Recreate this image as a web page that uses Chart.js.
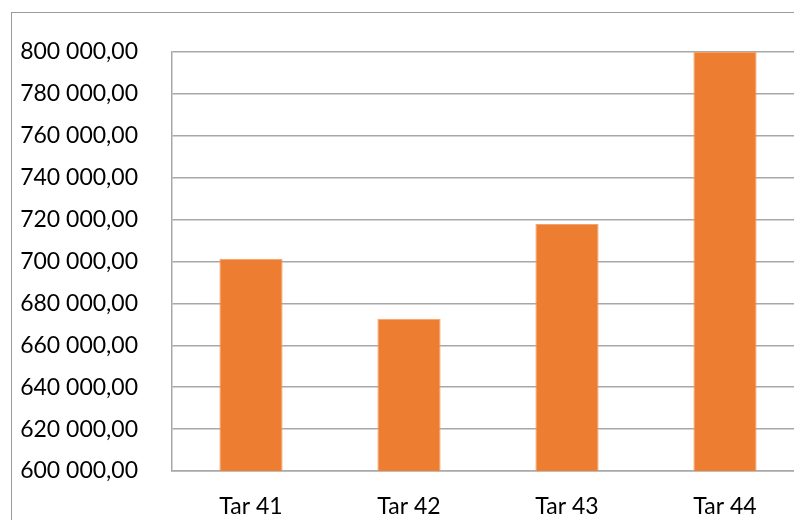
<!DOCTYPE html>
<html>
<head>
<meta charset="utf-8">
<script src="https://cdn.jsdelivr.net/npm/chart.js@4"></script>
<style>
  html, body { margin: 0; padding: 0; background: #fff; overflow: hidden; }
  #frame { position: absolute; left: 11px; top: 12px; width: 900px; height: 600px; border: 1px solid #9a9a9a; }
  #wrap { position: absolute; left: 0; top: 0; width: 830px; height: 520px; }
</style>
</head>
<body>
<div id="frame"></div>
<div id="wrap"><canvas id="mycanvas"></canvas></div>
<script>
// categories et valeurs
var categories = ["Tar 41", "Tar 42", "Tar 43", "Tar 44"];
var valeurs = [701300, 672700, 717900, 800000];
var yMin = 600000;
var yMax = 800000;
var yStep = 20000;

// format "800 000,00"
function formatNombre(v) {
  var parts = v.toFixed(2).split(".");
  var ent = parts[0].replace(/\B(?=(\d{3})+(?!\d))/g, " ");
  return ent + "," + parts[1];
}

var chartdata = {
  labels: categories,
  datasets: [{
    label: "valeurs",
    backgroundColor: "#ED7D31",
    borderColor: "#F3A36C",
    borderWidth: 1,
    data: valeurs,
    categoryPercentage: 1.0,
    barPercentage: 0.4
  }]
};

var ctx = document.getElementById("mycanvas");
var barGraph = new Chart(ctx, {
  type: "bar",
  data: chartdata,
  options: {
    responsive: true,
    maintainAspectRatio: false,
    animation: false,
    layout: { padding: { top: 52, left: 0, right: 26, bottom: 0 } },
    plugins: { legend: { display: false }, tooltip: { enabled: false } },
    scales: {
      x: {
        grid: { display: false, drawTicks: false },
        border: { color: "#A8A8A8", width: 1.5 },
        ticks: { color: "#000", font: { family: "Lato", size: 23 }, padding: 22 },
        afterFit: function(scale) { scale.height = 49; }
      },
      y: {
        min: yMin,
        max: yMax,
        grid: { color: "#A8A8A8", lineWidth: 1.5, drawTicks: false },
        border: { color: "#A8A8A8", width: 1.5 },
        ticks: {
          stepSize: yStep,
          color: "#000",
          font: { family: "Lato", size: 23 },
          padding: 34,
          callback: function(v) { return formatNombre(v); }
        },
        afterFit: function(scale) { scale.width = 172; }
      }
    }
  }
});
</script>
</body>
</html>
